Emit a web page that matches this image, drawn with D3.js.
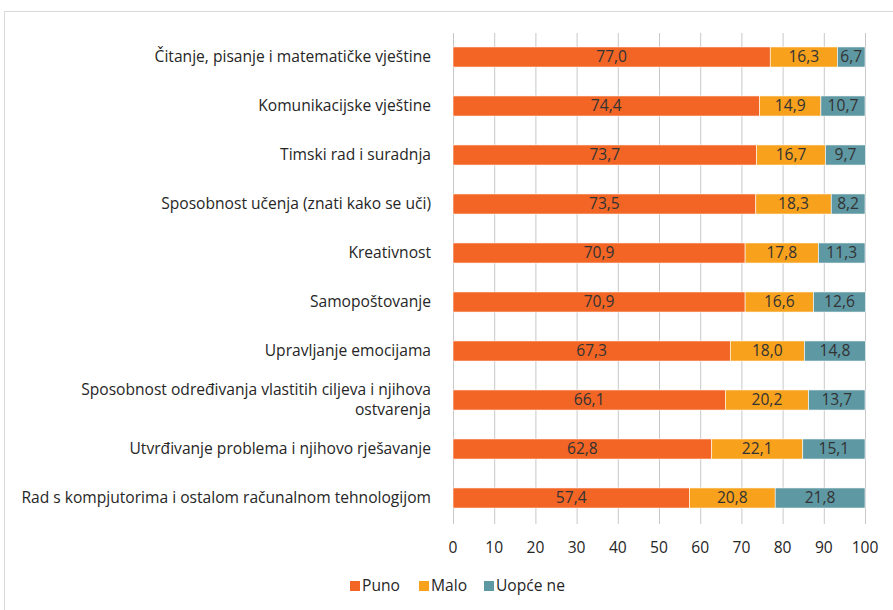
<!DOCTYPE html>
<html><head><meta charset="utf-8">
<script src="https://cdn.jsdelivr.net/npm/d3@7"></script>
<style>body{margin:0;background:#fff}text{font-family:"Open Sans",Lato,sans-serif}</style>
</head><body>
<svg id="c" width="893" height="610"></svg>
<script>
const categories = [
  "Čitanje, pisanje i matematičke vještine",
  "Komunikacijske vještine",
  "Timski rad i suradnja",
  "Sposobnost učenja (znati kako se uči)",
  "Kreativnost",
  "Samopoštovanje",
  "Upravljanje emocijama",
  "Sposobnost određivanja vlastitih ciljeva i njihova ostvarenja",
  "Utvrđivanje problema i njihovo rješavanje",
  "Rad s kompjutorima i ostalom računalnom tehnologijom"
];
const puno = [77.0, 74.4, 73.7, 73.5, 70.9, 70.9, 67.3, 66.1, 62.8, 57.4];
const malo = [16.3, 14.9, 16.7, 18.3, 17.8, 16.6, 18.0, 20.2, 22.1, 20.8];
const uopce = [6.7, 10.7, 9.7, 8.2, 11.3, 12.6, 14.8, 13.7, 15.1, 21.8];
const seriesNames = ["Puno", "Malo", "Uopće ne"];
const colors = ["#F26525", "#F7A11C", "#5E98A3"];
const ticks = [0,10,20,30,40,50,60,70,80,90,100];

const FS = 15.6;
const svg = d3.select("#c");
svg.append("rect").attr("x",4.5).attr("y",11.5).attr("width",900).attr("height",620)
  .attr("fill","none").attr("stroke","#d9d9d9");

const x = d3.scaleLinear().domain([0,100]).range([453,865]);
const y = d3.scaleBand().domain(categories).range([32.5,522.5]).paddingInner(0.59).paddingOuter(0.295);

svg.append("g").selectAll("line").data(ticks).join("line")
  .attr("x1",d=>x(d)+0.5).attr("x2",d=>x(d)+0.5).attr("y1",33).attr("y2",524)
  .attr("stroke","#c8c8c8").attr("stroke-width",1);

const fmt = v => v.toFixed(1).replace(".", ",");
const rows = categories.map((c,i)=>({c, vals:[puno[i], malo[i], uopce[i]]}));
const stack = d3.stack().keys([0,1,2]).value((d,k)=>d.vals[k])(rows);

stack.forEach((layer,k)=>{
  const g = svg.append("g");
  g.selectAll("rect").data(layer).join("rect")
    .attr("x",d=>x(d[0])).attr("width",d=>x(d[1])-x(d[0]))
    .attr("y",d=>y(d.data.c)).attr("height",y.bandwidth())
    .attr("fill",colors[k]).attr("stroke","#fff").attr("stroke-width",0.6);
  g.selectAll("text").data(layer).join("text")
    .attr("x",d=>(x(d[0])+x(d[1]))/2).attr("y",d=>y(d.data.c)+y.bandwidth()/2)
    .attr("dy","0.35em").attr("text-anchor","middle").attr("font-size",FS)
    .attr("fill","#333").text(d=>fmt(d.data.vals[k]));
});

const labelG = svg.append("g");
categories.forEach(c=>{
  const t = labelG.append("text").attr("text-anchor","end").attr("font-size",FS).attr("fill","#262626");
  const cy = y(c)+y.bandwidth()/2;
  if (c.startsWith("Sposobnost određivanja")) {
    t.append("tspan").attr("x",431).attr("y",cy-10).attr("dy","0.35em").text("Sposobnost određivanja vlastitih ciljeva i njihova");
    t.append("tspan").attr("x",431).attr("y",cy+10).attr("dy","0.35em").text("ostvarenja");
  } else {
    t.attr("x",431).attr("y",cy).attr("dy","0.35em").text(c);
  }
});

svg.append("g").selectAll("text").data(ticks).join("text")
  .attr("x",d=>x(d)).attr("y",548).attr("dy","0.35em").attr("text-anchor","middle")
  .attr("font-size",FS).attr("fill","#262626").text(d=>d);

const legX = [350, 419, 484];
const lg = svg.append("g");
seriesNames.forEach((s,i)=>{
  lg.append("rect").attr("x",legX[i]).attr("y",581).attr("width",10).attr("height",10).attr("fill",colors[i]);
  lg.append("text").attr("x",legX[i]+12).attr("y",586).attr("dy","0.35em").attr("font-size",FS)
    .attr("fill","#262626").text(s);
});
</script>
</body></html>
